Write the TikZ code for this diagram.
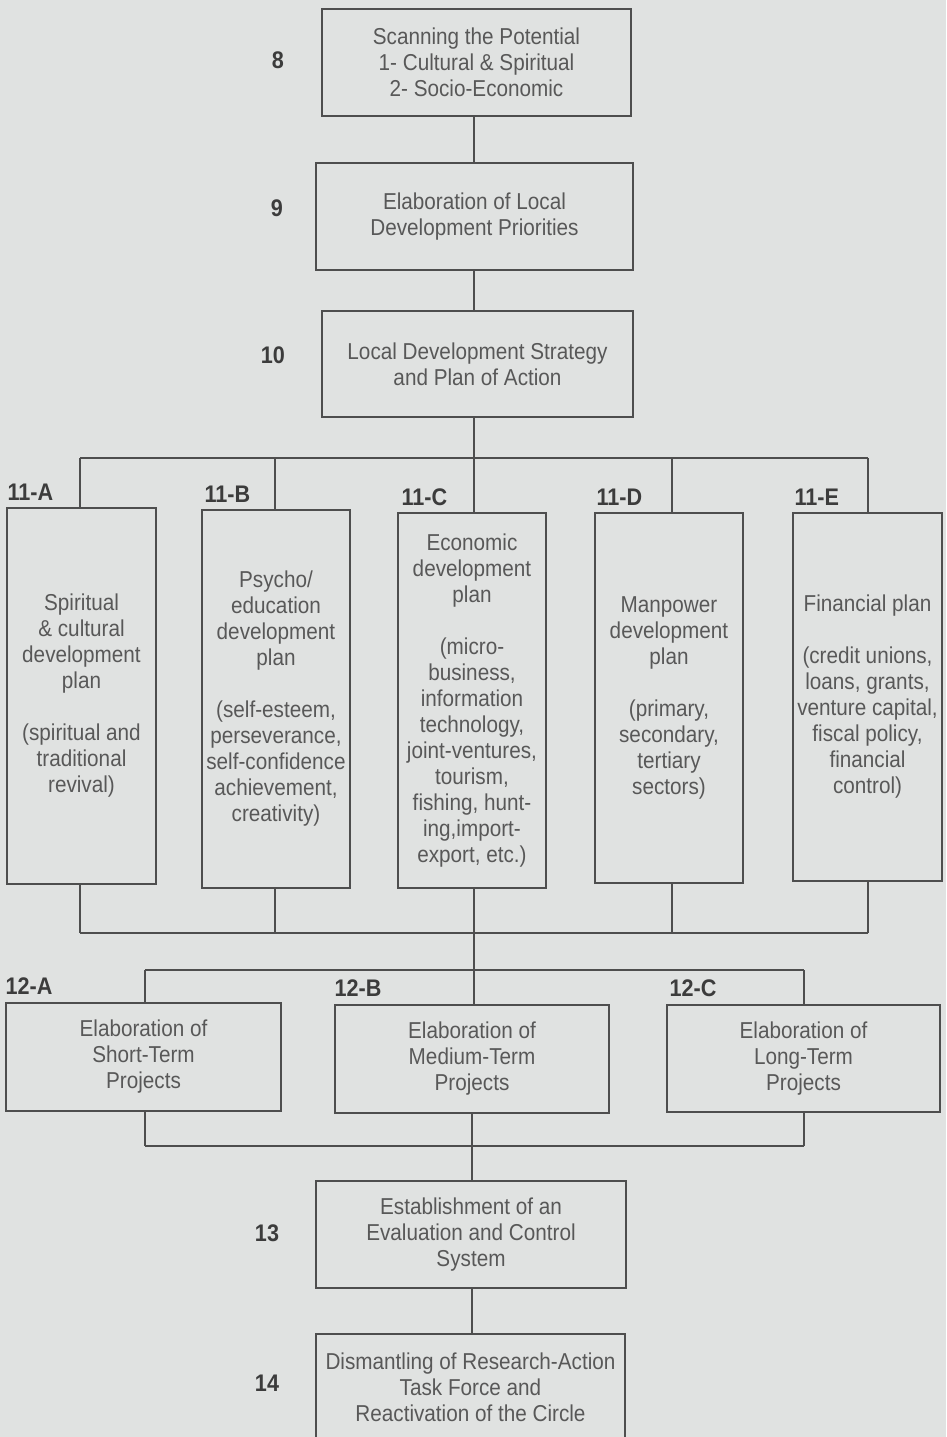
\documentclass[tikz,border=0pt]{standalone}
\usepackage{fontspec}
\setmainfont[FakeStretch=0.9]{Liberation Sans}
\definecolor{bgcol}{HTML}{E0E2E1}
\definecolor{linecol}{HTML}{4E4E4E}
\definecolor{txtcol}{HTML}{585858}
\definecolor{labcol}{HTML}{3C3C3C}
\begin{document}
\begin{tikzpicture}[x=1pt,y=-1pt,
  box/.style={draw=linecol, line width=1.2pt, inner sep=0pt, align=center, text=txtcol, font=\fontsize{23}{26}\selectfont},
  lab/.style={text=labcol, font=\bfseries\fontsize{24}{26}\selectfont, inner sep=0pt},
  conn/.style={draw=linecol, line width=1.2pt}]
\clip (0,0) rectangle (946,1437);
\fill[bgcol] (0,0) rectangle (946,1437);

% main column
\node[box, minimum width=309pt, minimum height=107pt] (b8) at (476.5,62.5) {Scanning the Potential\\1- Cultural \& Spiritual\\2- Socio-Economic};
\node[box, minimum width=317pt, minimum height=107pt] (b9) at (474.5,216.5) {Elaboration of Local\\Development Priorities};
\node[box, minimum width=311pt, minimum height=106pt] (b10) at (477.5,364) {Local Development Strategy\\and Plan of Action};

\node[lab] (l8) at (278,60) {8};
\node[lab] (l9) at (277,208) {9};
\node[lab] (l10) at (273,355) {10};

% level 11
\node[box, minimum width=149pt, minimum height=376pt] (bA) at (81.5,696) {Spiritual\\\& cultural\\development\\plan\\[26pt](spiritual and\\traditional\\revival)};
\node[box, minimum width=148pt, minimum height=378pt] (bB) at (276,699) {Psycho/\\education\\development\\plan\\[26pt](self-esteem,\\perseverance,\\self-confidence\\achievement,\\creativity)};
\node[box, minimum width=148pt, minimum height=375pt] (bC) at (472,700.5) {Economic\\development\\plan\\[26pt](micro-\\business,\\information\\technology,\\joint-ventures,\\tourism,\\fishing, hunt-\\ing,import-\\export, etc.)};
\node[box, minimum width=148pt, minimum height=370pt] (bD) at (669,698) {Manpower\\development\\plan\\[26pt](primary,\\secondary,\\tertiary\\sectors)};
\node[box, minimum width=149pt, minimum height=368pt] (bE) at (867.5,697) {Financial plan\\[26pt](credit unions,\\loans, grants,\\venture capital,\\fiscal policy,\\financial\\control)};

\node[lab, anchor=base west, xshift=1pt, yshift=7pt] (lA) at (bA.north west) {11-A};
\node[lab, anchor=base west, xshift=3pt, yshift=7pt] (lB) at (bB.north west) {11-B};
\node[lab, anchor=base west, xshift=4pt, yshift=7pt] (lC) at (bC.north west) {11-C};
\node[lab, anchor=base west, xshift=2pt, yshift=7pt] (lD) at (bD.north west) {11-D};
\node[lab, anchor=base west, xshift=2pt, yshift=7pt] (lE) at (bE.north west) {11-E};

% level 12
\node[box, minimum width=275pt, minimum height=108pt] (cA) at (143.5,1057) {Elaboration of\\Short-Term\\Projects};
\node[box, minimum width=274pt, minimum height=108pt] (cB) at (472,1059) {Elaboration of\\Medium-Term\\Projects};
\node[box, minimum width=273pt, minimum height=107pt] (cC) at (803.5,1058.5) {Elaboration of\\Long-Term\\Projects};

\node[lab, anchor=base west, xshift=0pt, yshift=8pt] (mA) at (cA.north west) {12-A};
\node[lab, anchor=base west, xshift=0pt, yshift=8pt] (mB) at (cB.north west) {12-B};
\node[lab, anchor=base west, xshift=3pt, yshift=8pt] (mC) at (cC.north west) {12-C};

% levels 13, 14
\node[box, minimum width=310pt, minimum height=107pt] (b13) at (471,1234.5) {Establishment of an\\Evaluation and Control\\System};
\node[box, minimum width=309pt, minimum height=107pt] (b14) at (470.5,1387.5) {Dismantling of Research-Action\\Task Force and\\Reactivation of the Circle};

\node[lab] (l13) at (267,1233) {13};
\node[lab] (l14) at (267,1383) {14};

% coordinates for connector lines
\coordinate (s1) at (474,0);
\coordinate (s2) at (472,0);
\coordinate (busT) at (0,458);
\coordinate (busB) at (0,933);
\coordinate (busU) at (0,970);
\coordinate (busL) at (0,1146);
\coordinate (xA) at (80,0);
\coordinate (xB) at (275,0);
\coordinate (xC) at (474,0);
\coordinate (xD) at (672,0);
\coordinate (xE) at (868,0);
\coordinate (yA) at (145,0);
\coordinate (yC) at (804,0);

\draw[conn] (b8.south -| s1) -- (b9.north -| s1);
\draw[conn] (b9.south -| s1) -- (b10.north -| s1);
\draw[conn] (b10.south -| s1) -- (busT -| s1);
\draw[conn] (busT -| xA) -- (busT -| xE);
\foreach \c/\b in {xA/bA, xB/bB, xC/bC, xD/bD, xE/bE}{
  \draw[conn] (busT -| \c) -- (\b.north -| \c);
  \draw[conn] (\b.south -| \c) -- (busB -| \c);
}
\draw[conn] (busB -| xA) -- (busB -| xE);
\draw[conn] (busB -| s1) -- (cB.north -| s1);
\draw[conn] (busU -| yA) -- (busU -| yC);
\draw[conn] (busU -| yA) -- (cA.north -| yA);
\draw[conn] (busU -| yC) -- (cC.north -| yC);
\draw[conn] (cA.south -| yA) -- (busL -| yA);
\draw[conn] (cB.south -| s2) -- (busL -| s2);
\draw[conn] (cC.south -| yC) -- (busL -| yC);
\draw[conn] (busL -| yA) -- (busL -| yC);
\draw[conn] (busL -| s2) -- (b13.north -| s2);
\draw[conn] (b13.south -| s2) -- (b14.north -| s2);
\end{tikzpicture}
\end{document}
